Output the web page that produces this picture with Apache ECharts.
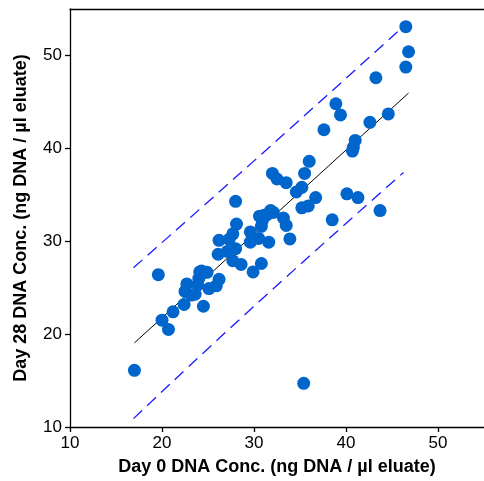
<!DOCTYPE html>
<html>
<head>
<meta charset="utf-8">
<script src="https://cdn.jsdelivr.net/npm/echarts@6/dist/echarts.min.js"></script>
<style>
    html, body { margin: 0; padding: 0; background: #fff; }
    #container { width: 484px; height: 481px; }
</style>
</head>
<body>
<div id="container"></div>
<script>
// 散点数据 (Day 0, Day 28)
var day0 = [17.0, 19.6, 20.0, 20.7, 21.2, 22.4, 22.5, 22.7, 23.2, 23.6, 23.9, 24.0, 24.1, 24.3, 24.5, 24.9,
    25.1, 25.9, 26.2, 26.1, 26.2, 27.1, 27.3, 27.7, 27.7, 28.0, 28.1, 28.0, 28.6, 29.6, 29.6, 29.9,
    30.5, 30.6, 30.9, 30.8, 30.8, 31.1, 31.4, 31.6, 31.8, 32.1, 32.0, 32.5, 33.2, 33.5, 33.5, 33.9,
    34.6, 35.2, 35.2, 35.5, 35.4, 35.9, 36.0, 36.7, 37.6, 38.5, 38.9, 39.4, 40.1, 40.7, 40.8, 41.0,
    41.3, 42.6, 43.25, 43.7, 44.6, 46.5, 46.5, 46.8];
var day28 = [16.1, 26.4, 21.5, 20.5, 22.4, 23.2, 24.6, 25.4, 24.2, 24.3, 25.3, 26.0, 26.7, 26.8, 23.0, 26.65,
    24.9, 25.2, 25.9, 28.6, 30.1, 28.9, 30.2, 30.8, 27.9, 34.3, 31.85, 29.2, 27.5, 31.0, 29.9, 26.7,
    30.3, 32.7, 32.2, 31.6, 27.6, 32.8, 32.85, 29.9, 33.3, 33.1, 37.3, 36.7, 32.5, 31.7, 36.3, 30.25,
    35.3, 35.8, 33.6, 37.3, 14.7, 33.8, 38.6, 34.7, 42.0, 32.3, 44.8, 43.6, 35.1, 39.7, 40.1, 40.85,
    34.7, 42.8, 47.6, 33.3, 43.7, 48.75, 53.1, 50.4];
// 回归线与预测带
var fitX = [17.0, 46.8];
var fitY = [19.05, 45.95];
var upperX = [16.9, 30.0, 46.5];
var upperY = [27.15, 38.65, 53.35];
var lowerX = [16.9, 30.0, 46.25];
var lowerY = [10.9, 23.0, 37.4];

function zip(a, b) {
    var out = [];
    for (var i = 0; i < a.length; i++) {
        out.push([a[i], b[i]]);
    }
    return out;
}

var labelFont = 'Liberation Sans, Arial, sans-serif';
var chart = echarts.init(document.getElementById('container'));
var option = {
    animation: false,
    grid: {
        left: 70,
        top: 9,
        right: -6,
        bottom: 51
    },
    xAxis: [{
        type: 'value',
        min: 10,
        max: 55,
        interval: 10,
        name: 'Day 0 DNA Conc. (ng DNA / µl eluate)',
        nameLocation: 'middle',
        nameGap: 31,
        nameTextStyle: { fontSize: 18, fontWeight: 'bold', color: '#000', fontFamily: labelFont },
        axisLine: { lineStyle: { color: '#000', width: 1.3 } },
        axisTick: { show: true, length: 5, lineStyle: { color: '#000', width: 1.3 } },
        axisLabel: { fontSize: 17, color: '#000', fontFamily: labelFont, margin: 8, showMaxLabel: false },
        splitLine: { show: false }
    }, {
        type: 'value',
        position: 'top',
        min: 10,
        max: 55,
        axisLine: { show: true, lineStyle: { color: '#000', width: 1.3 } },
        axisTick: { show: false },
        axisLabel: { show: false },
        splitLine: { show: false }
    }],
    yAxis: {
        type: 'value',
        min: 10,
        max: 55,
        interval: 10,
        name: 'Day 28 DNA Conc. (ng DNA / µl eluate)',
        nameLocation: 'middle',
        nameGap: 40,
        nameTextStyle: { fontSize: 18, fontWeight: 'bold', color: '#000', fontFamily: labelFont },
        axisLine: { show: true, lineStyle: { color: '#000', width: 1.3 } },
        axisTick: { show: true, length: 5, lineStyle: { color: '#000', width: 1.3 } },
        axisLabel: { fontSize: 17, color: '#000', fontFamily: labelFont, margin: 8, showMaxLabel: false },
        splitLine: { show: false }
    },
    series: [{
        type: 'line',
        data: zip(upperX, upperY),
        smooth: true,
        symbol: 'none',
        z: 1,
        lineStyle: { color: '#1a1aff', width: 1.3, type: [12, 7] }
    }, {
        type: 'line',
        data: zip(lowerX, lowerY),
        smooth: true,
        symbol: 'none',
        z: 1,
        lineStyle: { color: '#1a1aff', width: 1.3, type: [12, 7] }
    }, {
        type: 'line',
        data: zip(fitX, fitY),
        symbol: 'none',
        z: 2,
        lineStyle: { color: '#000', width: 1 }
    }, {
        type: 'scatter',
        data: zip(day0, day28),
        symbol: 'circle',
        symbolSize: 13,
        z: 3,
        itemStyle: { color: '#0066cc', opacity: 1 }
    }]
};
chart.setOption(option);
</script>
</body>
</html>
